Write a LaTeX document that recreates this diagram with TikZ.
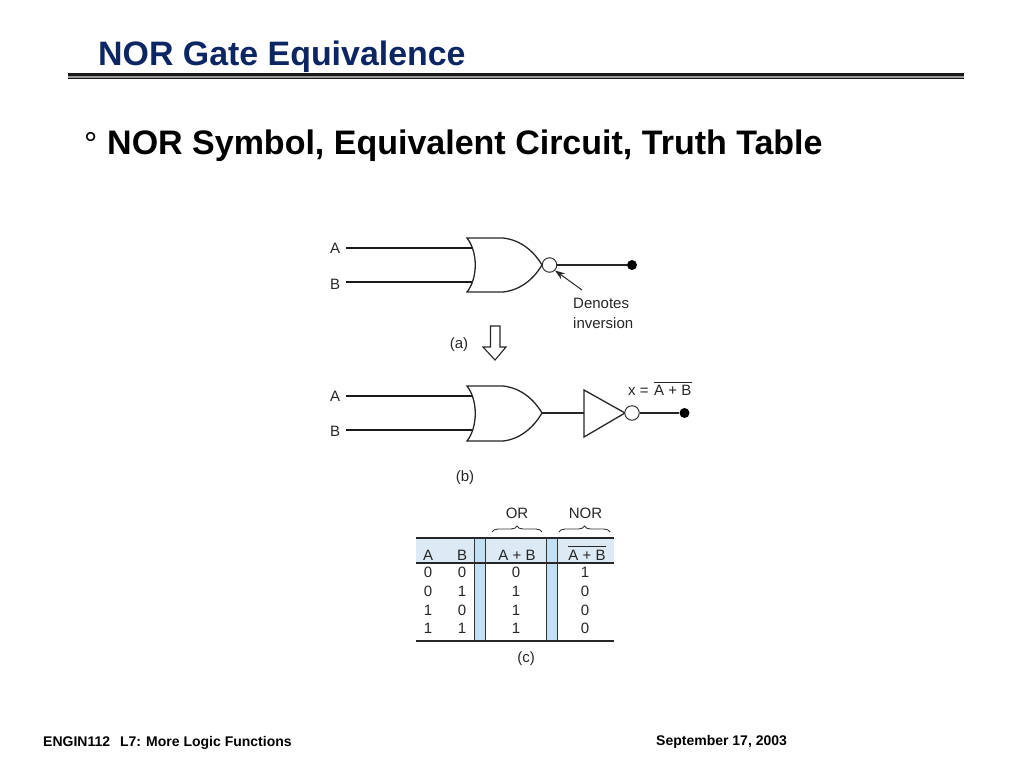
\documentclass[tikz,border=0pt]{standalone}
\usepackage{fontspec}
\setmainfont{Liberation Sans}
\usetikzlibrary{arrows.meta,decorations.pathreplacing}
\definecolor{titleblue}{HTML}{0C2663}
\definecolor{headblue}{HTML}{DCEAF5}
\definecolor{colblue}{HTML}{C2DFF3}
\tikzset{
  lbl/.style={inner sep=0pt, text=black!85, font=\fontsize{15}{18}\selectfont},
  cell/.style={lbl, inner sep=2pt},
  thickwire/.style={line width=2.2pt, black!90},
  wire/.style={line width=1.5pt, black!85},
  gateline/.style={line width=1.3pt, black!85},
  bubble/.style={circle, draw=black!80, line width=1pt, fill=white, minimum size=14.5pt, inner sep=0pt},
  dot/.style={circle, fill=black, minimum size=10pt, inner sep=0pt},
  rule/.style={line width=1.1pt, black!85},
  bracebar/.style={line width=0.9pt, black!80, decorate, decoration={brace, amplitude=6pt}}
}
\begin{document}
\begin{tikzpicture}[x=1pt, y=-1pt]
    \useasboundingbox (0,0) rectangle (1024,768);
    % slide head
    \node[anchor=base west, inner sep=0pt, text=titleblue, font=\fontsize{33.9}{36}\selectfont\bfseries] (title) at (98,65) {NOR Gate Equivalence};
    \fill[black!90] (68,73) rectangle (964,76.2);
    \fill[black!40] (68,76.2) rectangle (964,78);
    \fill[black!90] (68,78) rectangle (964,79.2);
    \node[anchor=base west, inner sep=0pt, font=\fontsize{33}{36}\selectfont] (mark) at (84,155) {°};
    \node[anchor=base west, inner sep=0pt, font=\fontsize{34}{36}\selectfont\bfseries] (head) at (107,154) {NOR Symbol, Equivalent Circuit, Truth Table};
    % gate (a)
    \node[lbl] (la) at (335,248.5) {A};
    \node[lbl] (lb) at (335,284.5) {B};
    \coordinate (a1s) at (346,248);
    \coordinate (a1e) at (472,248);
    \coordinate (a2s) at (346,282);
    \coordinate (a2e) at (472,282);
    \draw[thickwire] (a1s) -- (a1e);
    \draw[thickwire] (a2s) -- (a2e);
    \draw[gateline] (467,238) .. controls (478,252) and (478,278) .. (467,292)
        -- (503,292) .. controls (522,290) and (535,277) .. (542,265)
        .. controls (535,253) and (522,240) .. (503,238) -- cycle;
    \node[bubble] (buba) at (549.5,265) {};
    \node[dot] (dota) at (632,265) {};
    \draw[wire] (buba) -- (dota);
    \node[lbl, anchor=north west, align=left, font=\fontsize{15}{19.5}\selectfont] (denotes) at (573,298) {Denotes\\inversion};
    \draw[line width=1pt, black!85, -{Stealth[length=10pt, width=7pt]}] ([xshift=9pt,yshift=8pt]denotes.north west) -- (buba.south east);
    \node[lbl] (capa) at (459,345) {(a)};
    % hollow arrow
    \draw[line width=1.1pt, black!85] (490.5,326) -- (500,326) -- (500,347) -- (506,347) -- (495,360)
        -- (483,347) -- (490.5,347) -- cycle;
    % gate (b)
    \node[lbl] (lc) at (335,396.5) {A};
    \node[lbl] (ld) at (335,431.5) {B};
    \coordinate (b1s) at (346,396);
    \coordinate (b1e) at (472,396);
    \coordinate (b2s) at (346,430);
    \coordinate (b2e) at (472,430);
    \draw[thickwire] (b1s) -- (b1e);
    \draw[thickwire] (b2s) -- (b2e);
    \draw[gateline] (467,386) .. controls (478,400) and (478,427) .. (467,441)
        -- (503,441) .. controls (522,439) and (535,425) .. (542,413)
        .. controls (535,401) and (522,388) .. (503,386) -- cycle;
    \coordinate (ortip) at (542,413);
    \coordinate (invin) at (584,413);
    \coordinate (invtip) at (625,413);
    \draw[wire] (ortip) -- (invin);
    \draw[gateline] (584,390) -- (invtip) -- (584,437) -- cycle;
    \node[bubble] (bubb) at (632,413) {};
    \node[dot] (dotb) at (684.5,413) {};
    \draw[wire] (bubb) -- (dotb);
    \node[lbl, anchor=base west] (eq) at (628,395) {x =};
    \node[lbl, anchor=base west, inner ysep=2pt] (eqr) at (654,395) {A + B};
    \draw[line width=1pt, black!85] (eqr.north west) -- (eqr.north east);
    \node[lbl] (capb) at (465,478) {(b)};
    % table
    \fill[headblue] (416,538) rectangle (614,563);
    \fill[colblue] (474,538) rectangle (485,641);
    \fill[colblue] (546,538) rectangle (557,641);
    \coordinate (tl) at (416,538);
    \coordinate (tr) at (614,538);
    \coordinate (ml) at (416,563);
    \coordinate (mr) at (614,563);
    \coordinate (bl) at (416,641);
    \coordinate (br) at (614,641);
    \draw[rule] (tl) -- (tr);
    \draw[rule] (ml) -- (mr);
    \draw[rule] (bl) -- (br);
    \foreach \x in {474,485,546,557} {
        \draw[line width=1pt, black!80] (\x,538) -- (\x,641);
    }
    \node[cell] (ha) at (428,555) {A};
    \node[cell] (hb) at (462,555) {B};
    \node[cell] (hc) at (517,555) {A + B};
    \node[cell, inner ysep=3pt, inner xsep=0pt] (hd) at (587,555) {A + B};
    \draw[line width=1pt, black!85] (hd.north west) -- (hd.north east);
    \foreach \r/\a/\b/\o/\n in {572/0/0/0/1, 591/0/1/1/0, 610/1/0/1/0, 628/1/1/1/0} {
        \node[cell] (a\r) at (428,\r) {\a};
        \node[cell] (b\r) at (462,\r) {\b};
        \node[cell] (o\r) at (516,\r) {\o};
        \node[cell] (n\r) at (585,\r) {\n};
    }
    \coordinate (ors) at (492,532);
    \coordinate (ore) at (542,532);
    \coordinate (nors) at (559,532);
    \coordinate (nore) at (610,532);
    \draw[bracebar] (ors) -- (ore);
    \draw[bracebar] (nors) -- (nore);
    \node[lbl] (lor) at (517,513) {OR};
    \node[lbl] (lnor) at (585.5,513) {NOR};
    \node[lbl] (capc) at (526,659) {(c)};
    % footer
    \node[anchor=base west, inner sep=0pt, font=\fontsize{14}{16}\selectfont\bfseries] (fl) at (43,746) {ENGIN112\hspace{6pt} L7: More Logic Functions};
    \node[anchor=base west, inner sep=0pt, font=\fontsize{14}{16}\selectfont\bfseries] (fr) at (656,745) {September 17, 2003};
\end{tikzpicture}
\end{document}
